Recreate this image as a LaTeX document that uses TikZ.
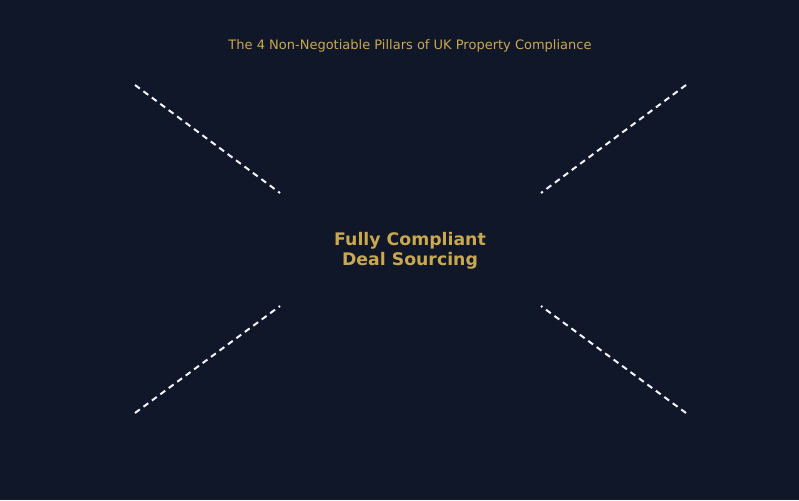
\documentclass[tikz,border=0pt]{standalone}
\usepackage{fontspec}
\setmainfont{DejaVu Sans}
\definecolor{bgnavy}{HTML}{0F1729}
\definecolor{gold}{HTML}{C9A84F}
\definecolor{dashwhite}{HTML}{F2F4F8}
\begin{document}
\begin{tikzpicture}[x=1pt,y=-1pt,
  titletext/.style={text=gold,font=\fontsize{13}{15}\selectfont,inner sep=0pt},
  centertext/.style={text=gold,font=\bfseries\fontsize{17.3}{19.5}\selectfont,align=center,inner sep=0pt},
  spoke/.style={draw=dashwhite,line width=2pt,dash pattern=on 6pt off 4.5pt}]
\fill[bgnavy] (0,0) rectangle (799,500);
\useasboundingbox (0,0) rectangle (799,500);
\node[titletext] (title) at (410,46) {The 4 Non-Negotiable Pillars of UK Property Compliance};
\node[centertext] (center) at (410,251) {Fully Compliant\\Deal Sourcing};
\coordinate (tlA) at (135,85);  \coordinate (tlB) at (280,193);
\coordinate (trA) at (686,85);  \coordinate (trB) at (541,193);
\coordinate (blA) at (135,413); \coordinate (blB) at (280,306);
\coordinate (brA) at (686,413); \coordinate (brB) at (541,306);
\draw[spoke] (tlA) -- (tlB);
\draw[spoke] (trA) -- (trB);
\draw[spoke] (blA) -- (blB);
\draw[spoke] (brA) -- (brB);
\end{tikzpicture}
\end{document}
